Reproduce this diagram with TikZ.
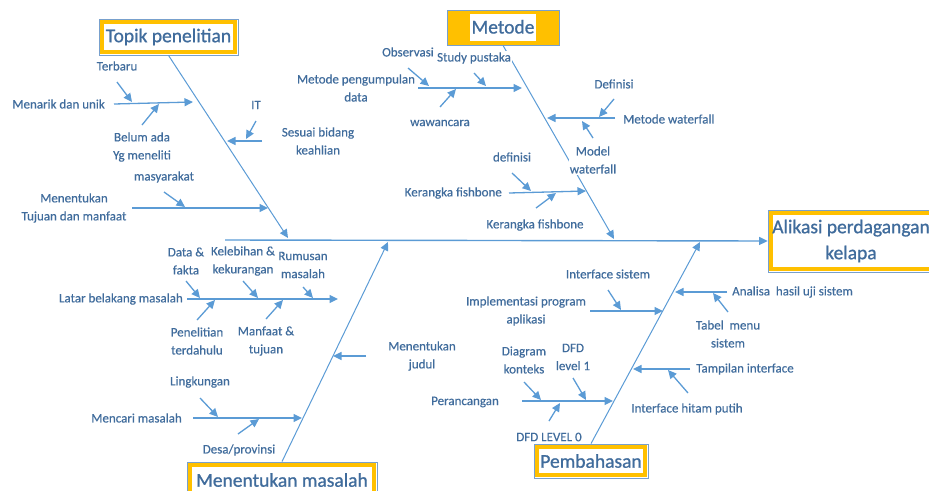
\documentclass[tikz,border=0pt]{standalone}
\usepackage{fontspec}
\setmainfont{Carlito}
\newfontfamily\lblfont{Carlito}[FakeBold=0.5]
\newfontfamily\headfont{Carlito}[FakeBold=0.9]
\usetikzlibrary{arrows.meta,calc}
\definecolor{lineblue}{RGB}{91,155,213}
\definecolor{txtblue}{RGB}{64,108,156}
\definecolor{gold}{RGB}{255,192,0}
\definecolor{frameblue}{RGB}{120,160,205}
\begin{document}
\begin{tikzpicture}[x=1pt,y=-1pt,
 lbl/.style={text=txtblue,font=\lblfont\fontsize{13}{18}\selectfont,align=center,inner sep=1pt},
 arr/.style={draw=lineblue,line width=1.3pt,-{Triangle[length=8.5pt,width=8pt]}},
 bone/.style={draw=lineblue,line width=1pt,-{Triangle[length=8.5pt,width=8pt]}},
 spineline/.style={draw=lineblue,line width=1.4pt,-{Triangle[length=8.5pt,width=8pt]}},
 headbox/.style={draw=frameblue,line width=0.8pt,fill=white,text=txtblue,
   font=\headfont\fontsize{19.5}{26}\selectfont,align=center,inner sep=0pt,
   path picture={\draw[gold,line width=4pt]
     ([xshift=3pt,yshift=-3pt]path picture bounding box.north west) rectangle
     ([xshift=-3pt,yshift=3pt]path picture bounding box.south east);}},
 goldbox/.style={draw=frameblue,line width=0.8pt,fill=gold,text=txtblue,
   font=\headfont\fontsize{19.5}{24}\selectfont,inner sep=0pt}
]
\useasboundingbox (0,0) rectangle (929,490);

% heads
\node[headbox,minimum width=139pt,minimum height=36pt] (topik) at (168.5,37) {Topik penelitian};
\node[goldbox,minimum width=112pt,minimum height=35pt] (metode) at (503,27.5)
  {\setlength{\fboxsep}{1.5pt}\colorbox{white}{\rule[-6pt]{0pt}{24pt}Metode}};
\node[headbox,minimum width=166pt,minimum height=62pt] (alikasi) at (851,241) {Alikasi perdagangan\\kelapa};
\node[headbox,minimum width=190pt,minimum height=36pt] (masalah) at (282,480) {Menentukan masalah};
\node[headbox,minimum width=114pt,minimum height=34pt] (bahas) at (591,461) {Pembahasan};

% spine
\coordinate (sp0) at (225,240);
\draw[spineline] (sp0) -- (alikasi.west);

% bones
\coordinate (tb) at (288,238);
\coordinate (mb) at (614,239);
\coordinate (qb) at (388,242);
\coordinate (pb) at (700,242);
\draw[bone] (topik.south) -- (tb);
\draw[bone] (metode.south) -- (mb);
\draw[bone] (masalah.north) -- (qb);
\draw[bone] (bahas.north) -- (pb);

% ---------- Topik penelitian ----------
\node[lbl,anchor=east] (menarik) at (106,104) {Menarik dan unik};
\coordinate (a1s) at (114,104); \coordinate (a1t) at (193,102);
\draw[arr] (a1s) -- (a1t);
\node[lbl] (terbaru) at (117,66) {Terbaru};
\coordinate (a2s) at (117,82); \coordinate (a2t) at (132,102);
\draw[arr] (a2s) -- (a2t);
\node[lbl] (belum) at (142,147) {Belum ada\\Yg meneliti};
\coordinate (a3s) at (142,125); \coordinate (a3t) at (159,104);
\draw[arr] (a3s) -- (a3t);
\node[lbl] (it) at (256,105) {IT};
\coordinate (a4s) at (256,121); \coordinate (a4t) at (246,139);
\draw[arr] (a4s) -- (a4t);
\node[lbl] (sesuai) at (318,141) {Sesuai bidang\\keahlian};
\coordinate (a5s) at (262,141); \coordinate (a5t) at (227,141);
\draw[arr] (a5s) -- (a5t);
\node[lbl] (tujuan) at (74,208) {Menentukan\\Tujuan dan manfaat};
\coordinate (a6s) at (132,208); \coordinate (a6t) at (268,208);
\draw[arr] (a6s) -- (a6t);
\node[lbl] (masy) at (164,177) {masyarakat};
\coordinate (a7s) at (164,192); \coordinate (a7t) at (185,207);
\draw[arr] (a7s) -- (a7t);

% ---------- Metode ----------
\node[lbl] (mpd) at (356,88) {Metode pengumpulan\\data};
\coordinate (b1s) at (418,88); \coordinate (b1t) at (522,88);
\draw[arr] (b1s) -- (b1t);
\node[lbl] (obs) at (408,52) {Observasi};
\coordinate (b2s) at (408,68); \coordinate (b2t) at (429,86);
\draw[arr] (b2s) -- (b2t);
\node[lbl,fill=white] (study) at (474,58) {Study pustaka};
\coordinate (b3s) at (474,73); \coordinate (b3t) at (486,86);
\draw[arr] (b3s) -- (b3t);
\node[lbl] (waw) at (440,123) {wawancara};
\coordinate (b4s) at (440,107); \coordinate (b4t) at (456,89);
\draw[arr] (b4s) -- (b4t);
\node[lbl,anchor=west] (mwf) at (622,119) {Metode waterfall};
\coordinate (b5s) at (615,118); \coordinate (b5t) at (547,118);
\draw[arr] (b5s) -- (b5t);
\node[lbl] (def) at (614,84) {Definisi};
\coordinate (b6s) at (614,99); \coordinate (b6t) at (599,117);
\draw[arr] (b6s) -- (b6t);
\node[lbl,fill=white] (model) at (593,160) {Model\\waterfall};
\coordinate (b7s) at (593,138); \coordinate (b7t) at (582,121);
\draw[arr] (b7s) -- (b7t);
\node[lbl,anchor=east] (kf1) at (503,193) {Kerangka fishbone};
\coordinate (b8s) at (509,193); \coordinate (b8t) at (586,191);
\draw[arr] (b8s) -- (b8t);
\node[lbl] (defk) at (512,157) {definisi};
\coordinate (b9s) at (512,173); \coordinate (b9t) at (531,191);
\draw[arr] (b9s) -- (b9t);
\node[lbl] (kf2) at (535,225) {Kerangka fishbone};
\coordinate (b10s) at (536,208); \coordinate (b10t) at (556,193);
\draw[arr] (b10s) -- (b10t);

% ---------- Menentukan masalah ----------
\node[lbl,anchor=east] (latar) at (184,299) {Latar belakang masalah};
\coordinate (c1s) at (187,299); \coordinate (c1t) at (338,299);
\draw[arr] (c1s) -- (c1t);
\node[lbl] (data) at (186,261) {Data \&\\fakta};
\coordinate (c2s) at (186,281); \coordinate (c2t) at (200,298);
\draw[arr] (c2s) -- (c2t);
\node[lbl] (kel) at (243,261) {Kelebihan \&\\kekurangan};
\coordinate (c3s) at (243,281); \coordinate (c3t) at (258,298);
\draw[arr] (c3s) -- (c3t);
\node[lbl] (rum) at (303,265) {Rumusan\\masalah};
\coordinate (c4s) at (303,287); \coordinate (c4t) at (313,298);
\draw[arr] (c4s) -- (c4t);
\node[lbl] (pen) at (197,341) {Penelitian\\terdahulu};
\coordinate (c5s) at (197,320); \coordinate (c5t) at (215,300);
\draw[arr] (c5s) -- (c5t);
\node[lbl] (manf) at (266,341) {Manfaat \&\\tujuan};
\coordinate (c6s) at (266,319); \coordinate (c6t) at (283,300);
\draw[arr] (c6s) -- (c6t);
\node[lbl] (judul) at (422,356) {Menentukan\\judul};
\coordinate (c7s) at (366,356); \coordinate (c7t) at (333,356);
\draw[arr] (c7s) -- (c7t);
\node[lbl,anchor=east] (mencari) at (183,418) {Mencari masalah};
\coordinate (c8s) at (193,418); \coordinate (c8t) at (302,418);
\draw[arr] (c8s) -- (c8t);
\node[lbl] (ling) at (200,382) {Lingkungan};
\coordinate (c9s) at (200,398); \coordinate (c9t) at (218,417);
\draw[arr] (c9s) -- (c9t);
\node[lbl] (desa) at (239,450) {Desa/provinsi};
\coordinate (c10s) at (238,434); \coordinate (c10t) at (259,419);
\draw[arr] (c10s) -- (c10t);

% ---------- Pembahasan ----------
\node[lbl] (impl) at (526,311) {Implementasi program\\aplikasi};
\coordinate (d1s) at (590,311); \coordinate (d1t) at (663,311);
\draw[arr] (d1s) -- (d1t);
\node[lbl] (ifs) at (608,274) {Interface sistem};
\coordinate (d2s) at (608,290); \coordinate (d2t) at (621,310);
\draw[arr] (d2s) -- (d2t);
\node[lbl] (peran) at (465,402) {Perancangan};
\coordinate (d3s) at (522,401); \coordinate (d3t) at (613,401);
\draw[arr] (d3s) -- (d3t);
\node[lbl] (diag) at (524,360) {Diagram\\konteks};
\coordinate (d4s) at (524,382); \coordinate (d4t) at (541,400);
\draw[arr] (d4s) -- (d4t);
\node[lbl] (dfd1) at (573,357) {DFD\\level 1};
\coordinate (d5s) at (573,378); \coordinate (d5t) at (586,400);
\draw[arr] (d5s) -- (d5t);
\node[lbl] (dfd0) at (549,437) {DFD LEVEL 0};
\coordinate (d6s) at (549,421); \coordinate (d6t) at (560,403);
\draw[arr] (d6s) -- (d6t);
\node[lbl,anchor=west] (anal) at (731,292) {Analisa~~hasil uji sistem};
\coordinate (d7s) at (727,292); \coordinate (d7t) at (675,292);
\draw[arr] (d7s) -- (d7t);
\node[lbl] (tabel) at (728,334) {Tabel~~menu\\sistem};
\coordinate (d8s) at (728,312); \coordinate (d8t) at (713,293);
\draw[arr] (d8s) -- (d8t);
\node[lbl,anchor=west] (tamp) at (695,369) {Tampilan interface};
\coordinate (d9s) at (690,369); \coordinate (d9t) at (633,369);
\draw[arr] (d9s) -- (d9t);
\node[lbl] (ihp) at (687,409) {Interface hitam putih};
\coordinate (d10s) at (688,393); \coordinate (d10t) at (668,370);
\draw[arr] (d10s) -- (d10t);
\end{tikzpicture}
\end{document}
